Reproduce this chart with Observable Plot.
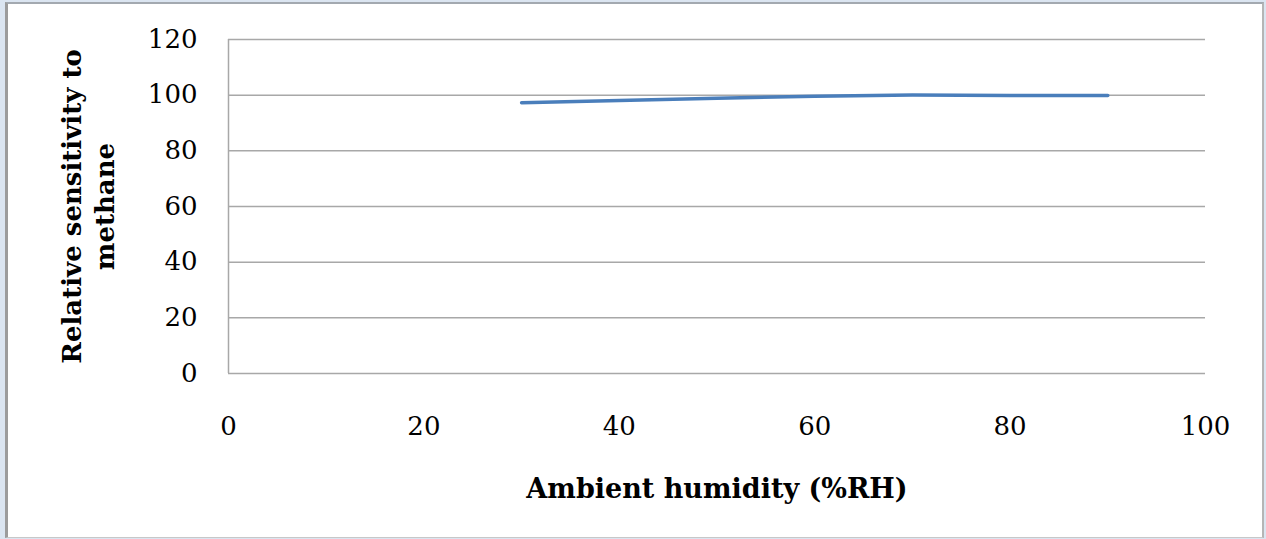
<!DOCTYPE html>
<html>
<head>
<meta charset="utf-8">
<script src="https://cdn.jsdelivr.net/npm/d3@7"></script>
<script src="https://cdn.jsdelivr.net/npm/@observablehq/plot@0.6"></script>
<style>
  html, body { margin: 0; padding: 0; background: #fff; }
  #wrap { position: relative; width: 1266px; height: 539px; background: #dbe5f1; overflow: hidden; }
  #inner { position: absolute; left: 5px; top: 2px; right: 2px; bottom: 1px; background: #fff;
           border-left: 3px solid #9c9c9c; border-top: 2px solid #a3a9b0; border-right: 2px solid #b5b5b5; border-bottom: 1px solid #c8c8c8; }
  #chart { position: absolute; left: 0; top: 0; }
</style>
</head>
<body>
<div id="wrap"><div id="inner"></div><div id="chart"></div></div>
<script>
const humidity = [30, 40, 50, 60, 70, 80, 90];
const sensitivity = [97.3, 98.1, 98.9, 99.6, 100.1, 99.9, 99.9];
const xTicks = [0, 20, 40, 60, 80, 100];
const yTicks = [0, 20, 40, 60, 80, 100, 120];
const xTitle = "Ambient humidity (%RH)";
const yTitle = "Relative sensitivity to\nmethane";

const data = humidity.map((h, i) => ({h, s: sensitivity[i]}));

const chart = Plot.plot({
  width: 1266,
  height: 539,
  marginLeft: 228,
  marginRight: 61,
  marginTop: 39,
  marginBottom: 166,
  x: {domain: [0, 100]},
  y: {domain: [0, 120]},
  style: {fontFamily: "DejaVu Serif", fontSize: "26px", background: "transparent", color: "#000", overflow: "visible"},
  marks: [
    Plot.gridY(yTicks, {stroke: "#a8a8a8", strokeOpacity: 1, strokeWidth: 1.5}),
    Plot.ruleX([0], {stroke: "#a8a8a8", strokeWidth: 1.5}),
    Plot.axisY(yTicks, {tickSize: 0, tickPadding: 31, label: null, fill: "#000"}),
    Plot.axisX(xTicks, {tickSize: 0, tickPadding: 43, label: null, fill: "#000"}),
    Plot.line(data, {x: "h", y: "s", stroke: "#4a7ebb", strokeWidth: 3.5, strokeLinecap: "round"}),
    Plot.text([xTitle], {frameAnchor: "bottom", dy: 116, textAnchor: "middle", lineAnchor: "middle", fontWeight: "bold", fontSize: 27, fill: "#000"}),
    Plot.text([yTitle], {frameAnchor: "left", rotate: -90, dx: -142, textAnchor: "middle", lineAnchor: "middle", fontWeight: "bold", fontSize: 26, lineHeight: 1.27, fill: "#000"})
  ]
});
document.getElementById("chart").appendChild(chart);
</script>
</body>
</html>
